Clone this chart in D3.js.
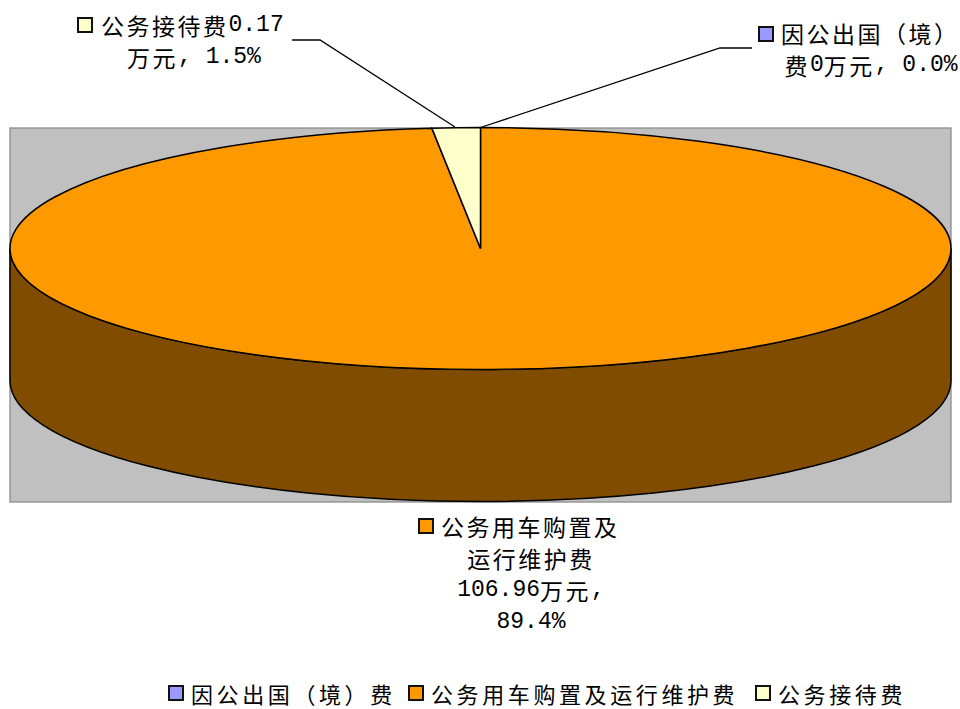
<!DOCTYPE html>
<html>
<head>
<meta charset="utf-8">
<script src="https://cdn.jsdelivr.net/npm/d3@7/dist/d3.min.js"></script>
<style>
  html, body { margin: 0; background: #fff; overflow: hidden; }
  svg { display: block; }
  .cjk { font-family: "Noto Sans CJK SC", sans-serif; font-size: 23px; letter-spacing: 2.5px; }
  .latin { font-family: "Liberation Mono", monospace; font-size: 23px; }
  .legend .cjk { font-size: 22px; letter-spacing: 3.6px; }
</style>
</head>
<body>
<svg id="chart" width="960" height="709"></svg>
<script>
const categories = ["因公出国（境）费", "公务用车购置及运行维护费", "公务接待费"];
// slice sizes as drawn in the picture (the printed percentages do not add up to 100)
const sliceShares = [0, 98.35, 1.65];
const sliceColors = ["#9999FF", "#FF9900", "#FFFFCC"];
const sideColor = "#7F4C00";

const blueLabel = ["因公出国（境）", "费0万元, 0.0%"];
const orangeLabel = ["公务用车购置及", "运行维护费", "106.96万元,", "89.4%"];
const yellowLabel = ["公务接待费0.17", "万元, 1.5%"];

const svg = d3.select("#chart");

const plot = { x: 10, y: 128, w: 941, h: 374 };
const cx = 480.5, cy = 248.5, rx = 470.5, ry = 121, depth = 132;

svg.append("rect")
  .attr("x", plot.x).attr("y", plot.y)
  .attr("width", plot.w).attr("height", plot.h)
  .attr("fill", "#C0C0C0")
  .attr("stroke", "#8c8c8c")
  .attr("stroke-width", 1.3);

// front wall of the pie, only the orange slice shows there
svg.append("path")
  .attr("d", `M${cx - rx},${cy} A${rx},${ry} 0 0 0 ${cx + rx},${cy}
              L${cx + rx},${cy + depth} A${rx},${ry} 0 0 1 ${cx - rx},${cy + depth} Z`)
  .attr("fill", sideColor)
  .attr("stroke", "#000")
  .attr("stroke-width", 1.5);

const pie = d3.pie().sort(null);
const arc = d3.arc().innerRadius(0).outerRadius(rx);

svg.append("g")
  .attr("transform", `translate(${cx},${cy}) scale(1,${ry / rx})`)
  .selectAll("path")
  .data(pie(sliceShares))
  .join("path")
  .attr("d", arc)
  .attr("fill", (d, i) => sliceColors[i])
  .attr("stroke", "#000")
  .attr("stroke-width", 1.5)
  .attr("vector-effect", "non-scaling-stroke");

// leader lines
const leader = d3.line();
const leaders = [
  [[292, 40], [320, 40], [455, 127]],
  [[752, 48], [720, 48], [482, 127]]
];
svg.selectAll(".leader")
  .data(leaders)
  .join("path")
  .attr("class", "leader")
  .attr("d", leader)
  .attr("fill", "none")
  .attr("stroke", "#000")
  .attr("stroke-width", 1.3);

function key(x, y, color) {
  svg.append("rect")
    .attr("x", x + 1).attr("y", y + 1)
    .attr("width", 14).attr("height", 14)
    .attr("fill", color)
    .attr("stroke", "#111")
    .attr("stroke-width", 2);
}

// cjk and latin runs get their own font so the digits stay half width
function putText(str, x, y, anchor, cls) {
  const t = svg.append("text")
    .attr("class", cls || null)
    .attr("x", x).attr("y", y)
    .attr("text-anchor", anchor)
    .attr("dominant-baseline", "central")
    .attr("fill", "#000")
    .style("white-space", "pre");
  for (const run of str.match(/[\x00-\x7f]+|[^\x00-\x7f]+/g)) {
    t.append("tspan")
      .attr("class", /[\x00-\x7f]/.test(run[0]) ? "latin" : "cjk")
      .text(run);
  }
}

// data labels
key(77, 17, sliceColors[2]);
putText(yellowLabel[0], 101, 25, "start");
putText(yellowLabel[1], 194, 57, "middle");

key(758, 26, sliceColors[0]);
putText(blueLabel[0], 781, 33, "start");
putText(blueLabel[1], 871, 65, "middle");

key(418, 518, sliceColors[1]);
putText(orangeLabel[0], 441, 526, "start");
orangeLabel.slice(1).forEach((s, i) => putText(s, 531, 558 + i * 32, "middle"));

// legend
const legendKeyX = [168, 408, 755];
categories.forEach((c, i) => {
  key(legendKeyX[i], 685, sliceColors[i]);
  putText(c, legendKeyX[i] + 23, 693, "start", "legend");
});
</script>
</body>
</html>
